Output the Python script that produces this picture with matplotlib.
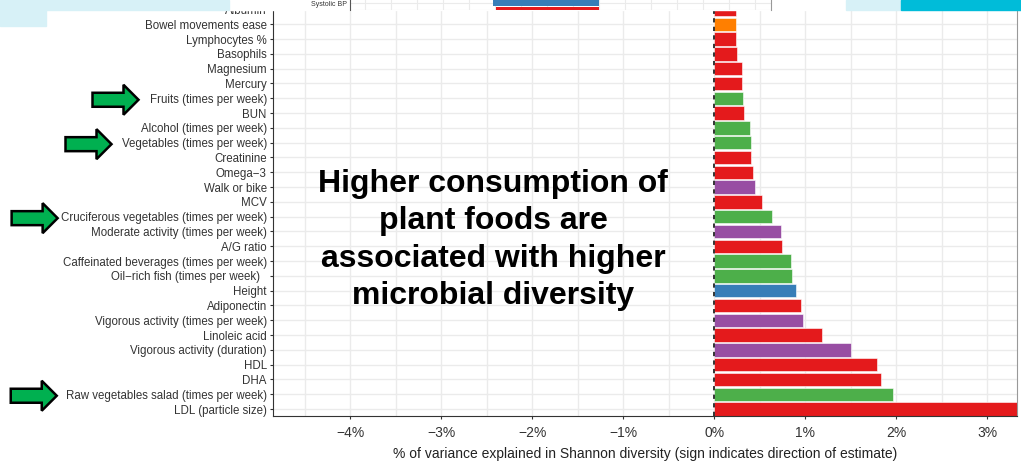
import numpy as np
import matplotlib.pyplot as plt
from matplotlib.patches import Rectangle, Polygon

plt.rcParams['font.family'] = ['Liberation Sans', 'DejaVu Sans']

# Variance of Shannon diversity explained per variable (%), top row first
labels = [
    'Albumin', 'Bowel movements ease', 'Lymphocytes %', 'Basophils', 'Magnesium',
    'Mercury', 'Fruits (times per week)', 'BUN', 'Alcohol (times per week)',
    'Vegetables (times per week)', 'Creatinine', 'Omega\u22123', 'Walk or bike', 'MCV',
    'Cruciferous vegetables (times per week)', 'Moderate activity (times per week)',
    'A/G ratio', 'Caffeinated beverages (times per week)',
    'Oil\u2212rich fish (times per week)  ', 'Height', 'Adiponectin',
    'Vigorous activity (times per week)', 'Linoleic acid',
    'Vigorous activity (duration)', 'HDL', 'DHA',
    'Raw vegetables salad (times per week)', 'LDL (particle size)',
]
values = [
    0.24, 0.24, 0.24, 0.25, 0.31, 0.31, 0.32, 0.33, 0.39, 0.40, 0.40, 0.43, 0.45, 0.53,
    0.64, 0.74, 0.75, 0.84, 0.86, 0.90, 0.95, 0.98, 1.19, 1.50, 1.79, 1.83, 1.97, 3.60,
]
groups = [
    'blood', 'stool', 'blood', 'blood', 'blood', 'blood', 'diet', 'blood', 'diet',
    'diet', 'blood', 'blood', 'activity', 'blood', 'diet', 'activity', 'blood', 'diet',
    'diet', 'body', 'blood', 'activity', 'blood', 'activity', 'blood', 'blood', 'diet',
    'blood',
]
# rows marked with an arrow, and the gap (px) between arrow tip and label
highlight = {
    'Fruits (times per week)': 11,
    'Vegetables (times per week)': 10,
    'Cruciferous vegetables (times per week)': 3,
    'Raw vegetables salad (times per week)': 9,
}
group_colors = {'blood': '#E41A1C', 'stool': '#FF7F00', 'diet': '#4DAF4A',
                'activity': '#984EA3', 'body': '#377EB8'}

# tail of the panel above
inset_labels = ['', 'Systolic BP']
inset_values = [-1.98, -2.04]
inset_groups = ['blood', 'body']

x_ticks = [-4, -3, -2, -1, 0, 1, 2, 3]
x_ticklabels = ['\u22124%', '\u22123%', '\u22122%', '\u22121%', '0%', '1%', '2%', '3%']

W, H = 1021, 465
fig = plt.figure(figsize=(W / 100, H / 100), dpi=100)
fig.patch.set_facecolor('white')

ax = fig.add_axes([273 / W, 49 / H, (1017 - 273) / W, 416 / H])
n = len(labels)
ypos = np.arange(n)[::-1]
ax.barh(ypos, values, height=0.9, color=[group_colors[g] for g in groups],
        edgecolor='white', linewidth=0.4, zorder=2)
ax.axvline(0, color='#333333', ls=(0, (2.2, 2.2)), lw=1.4, zorder=3)

ax.set_xlim(-4.85, 3.33)
ax.set_ylim(-0.47, 27.64)
ax.set_xticks(x_ticks)
ax.set_xticklabels(x_ticklabels)
ax.set_xticks(np.arange(-4.5, 3.5, 1.0), minor=True)
ax.set_yticks(ypos)
ax.set_yticklabels(labels)
ax.grid(True, which='both', axis='x', color='#EBEBEB', lw=1.0, zorder=0)
ax.grid(True, which='major', axis='y', color='#EBEBEB', lw=1.0, zorder=0)
ax.set_axisbelow(True)
ax.tick_params(axis='both', which='major', length=2.5, color='#333333',
               labelcolor='#333333', labelsize=8.3, pad=2)
ax.tick_params(axis='x', which='major', labelsize=10, pad=5)
ax.tick_params(axis='x', which='minor', length=0)
ax.spines['top'].set_visible(False)
ax.spines['left'].set_color('#333333')
ax.spines['bottom'].set_color('#333333')
ax.spines['right'].set_color('#999999')
ax.set_xlabel('% of variance explained in Shannon diversity (sign indicates direction of estimate)',
              fontsize=10, color='#222222', labelpad=5)

fig.text(493 / W, 1 - 240 / H,
         'Higher consumption of\nplant foods are\nassociated with higher\nmicrobial diversity',
         ha='center', va='center', fontsize=23, fontweight='bold', color='black',
         linespacing=1.33, zorder=4)

# slide strip along the top edge
over = fig.add_axes([0, 0, 1, 1], zorder=5)
over.set_xlim(0, W)
over.set_ylim(H, 0)
over.axis('off')
over.patch.set_alpha(0)
over.add_patch(Rectangle((229, 0), 617, 10, color='white'))
over.add_patch(Rectangle((0, 0), 229, 10, color='#D7F1F7'))
over.add_patch(Rectangle((0, 10), 46, 16, color='#D7F1F7'))
over.add_patch(Rectangle((846, 0), 55, 10, color='#D7F1F7'))
over.add_patch(Rectangle((901, 0), 120, 10, color='#00BCD9'))

inset = fig.add_axes([350 / W, (H - 10) / H, (771 - 350) / W, 10 / H], zorder=6)
inset.barh([0, 1], inset_values, height=0.9,
           color=[group_colors[g] for g in inset_groups], zorder=2)
inset.set_xlim(-4.79, 3.31)
inset.set_ylim(0.285, 1.448)
inset.set_xticks(np.arange(-4.5, 3.5, 0.5))
inset.set_yticks([0, 1])
inset.set_yticklabels(inset_labels)
inset.grid(True, color='#EBEBEB', lw=0.8, zorder=0)
inset.set_axisbelow(True)
inset.tick_params(axis='x', length=0, labelbottom=False)
inset.tick_params(axis='y', length=0, labelsize=5, labelcolor='#333333', pad=2)
inset.spines['top'].set_visible(False)
inset.spines['bottom'].set_visible(False)
inset.spines['left'].set_color('#555555')
inset.spines['right'].set_color('#999999')

# green arrows pointing at the plant-food rows
fig.canvas.draw()
renderer = fig.canvas.get_renderer()
for tl in ax.get_yticklabels():
    if tl.get_text() in highlight:
        bb = tl.get_window_extent(renderer)
        tip = bb.x0 - highlight[tl.get_text()]
        yc = H - (bb.y0 + bb.y1) / 2
        pts = [(tip - 46, yc - 7), (tip - 15, yc - 7), (tip - 15, yc - 15), (tip, yc),
               (tip - 15, yc + 15), (tip - 15, yc + 7), (tip - 46, yc + 7)]
        over.add_patch(Polygon(pts, closed=True, facecolor='#00B050',
                               edgecolor='black', lw=1.8, joinstyle='miter'))

fig.savefig('out.png', dpi=100)
